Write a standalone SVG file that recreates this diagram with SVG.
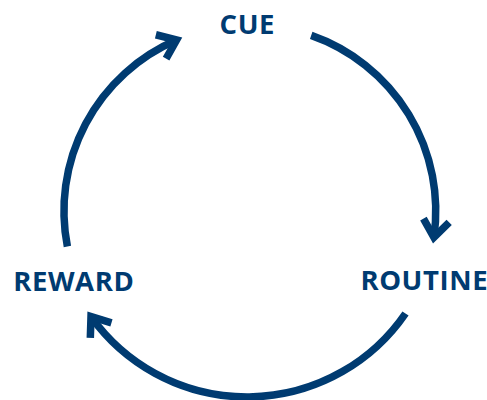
<svg xmlns="http://www.w3.org/2000/svg" width="487" height="400" viewBox="0 0 487 400">
  <defs>
    <style>
      .label { font-family: "Open Sans", "Noto Sans", "Liberation Sans", sans-serif; font-weight: 700; font-size: 27.5px; letter-spacing: 0.6px; fill: #003b71; text-anchor: middle; }
      .arc { fill: none; stroke: #003b71; stroke-width: 7.5; stroke-linecap: butt; }
    </style>
    <!-- open chevron arrowhead, drawn in user units -->
    <marker id="chevron" markerUnits="userSpaceOnUse" viewBox="-25 -20 35 40" markerWidth="35" markerHeight="40" refX="0" refY="0" orient="auto">
      <path d="M -17 -13 L 0 0 L -17 13" fill="none" stroke="#003b71" stroke-width="7.5" stroke-linejoin="miter" stroke-linecap="butt"/>
    </marker>
  </defs>
  <rect width="487" height="400" fill="#ffffff"/>

  <g id="connectors">
    <!-- cue to routine -->
    <path class="arc" d="M 311.2 35.4 A 186 186 0 0 1 433.9 237.3" marker-end="url(#chevron)"/>
    <!-- routine to reward -->
    <path class="arc" d="M 405.5 313.5 A 192 192 0 0 1 91 316.6" marker-end="url(#chevron)"/>
    <!-- reward to cue -->
    <path class="arc" d="M 67.4 246.5 A 186 186 0 0 1 176.6 40" marker-end="url(#chevron)"/>
  </g>

  <g id="cue">
    <text class="label" x="247.3" y="34">CUE</text>
  </g>
  <g id="routine">
    <text class="label" x="424.3" y="290">ROUTINE</text>
  </g>
  <g id="reward">
    <text class="label" x="73.8" y="291">REWARD</text>
  </g>
</svg>
